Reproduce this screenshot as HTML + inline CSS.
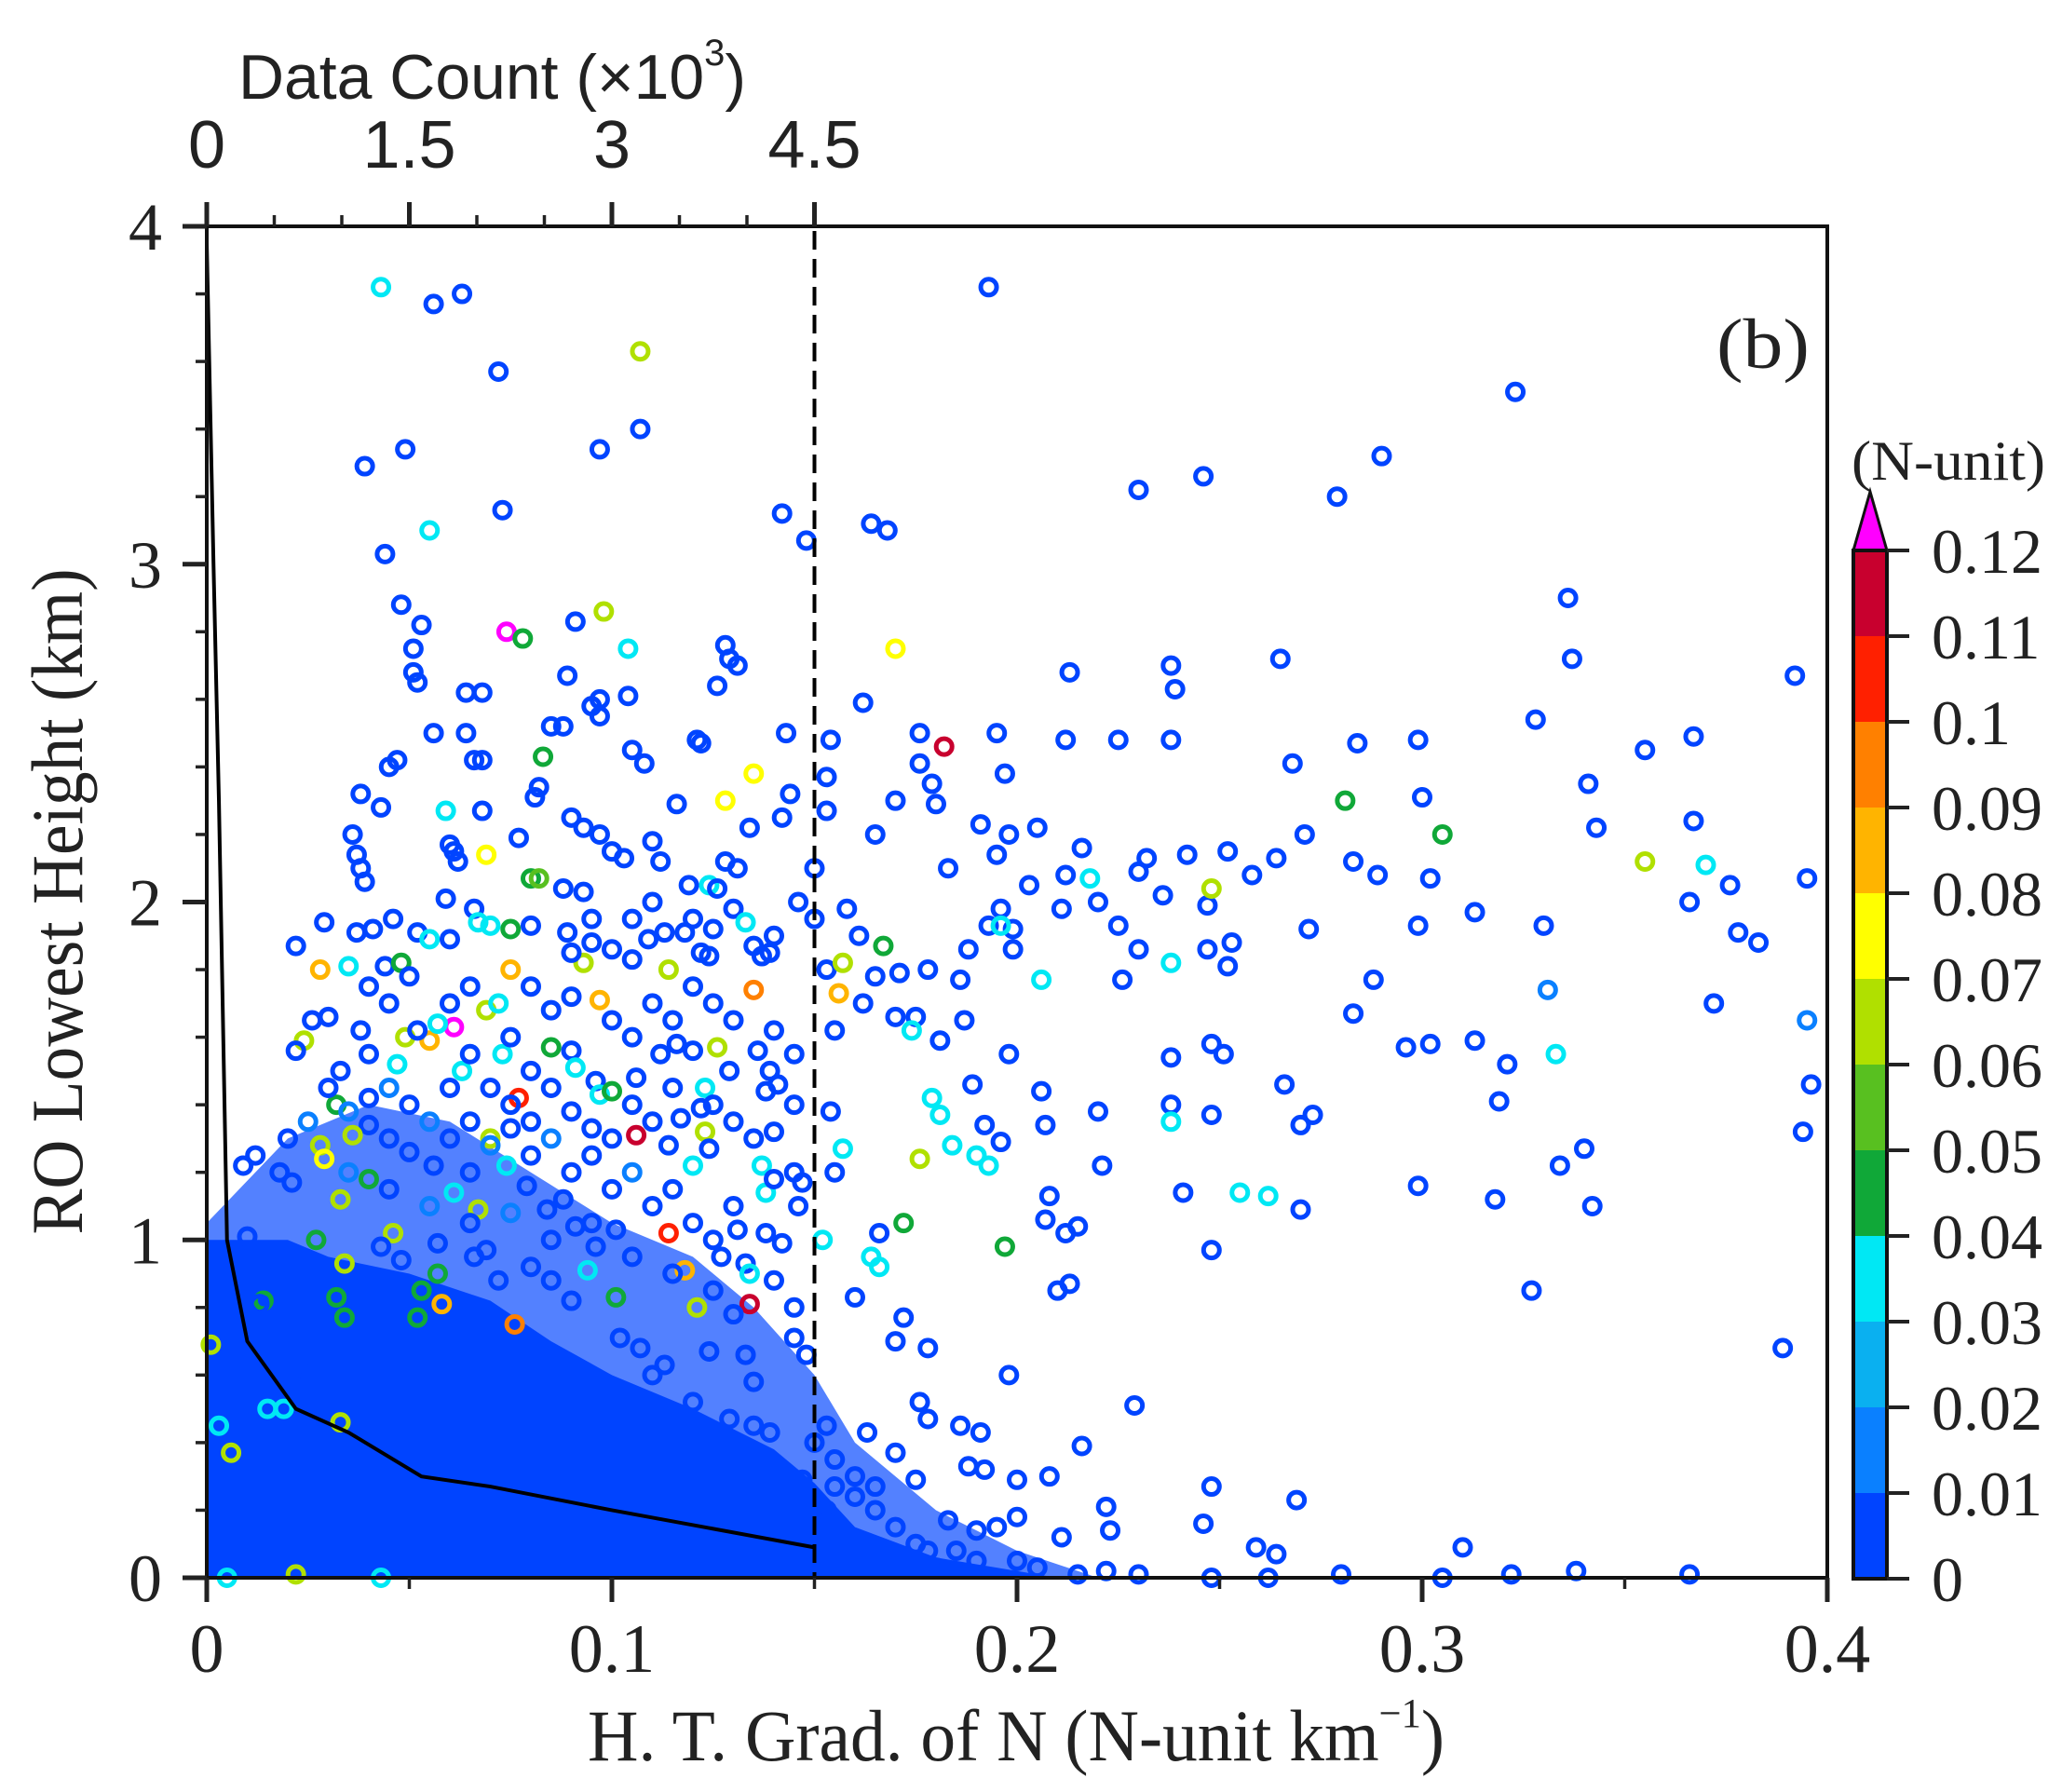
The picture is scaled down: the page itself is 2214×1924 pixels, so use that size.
<!DOCTYPE html>
<html><head><meta charset="utf-8"><style>
html,body{margin:0;padding:0;background:#fff;}
svg{display:block;}
text{font-family:"Liberation Serif",serif;fill:#222;}
.sans{font-family:"Liberation Sans Narrow","Liberation Sans",sans-serif;}
</style></head><body>
<svg id="chart" width="2214" height="1924" viewBox="0 0 2214 1924" xmlns="http://www.w3.org/2000/svg">
<g id="dense"></g>
<g id="pts"></g>
<g id="lines"></g>
<g id="axes"></g>
<g id="cbar"></g>
</svg>
<script>
// ---- data ----
const xTicks=[0,0.1,0.2,0.3,0.4];
const xTickLabels=["0","0.1","0.2","0.3","0.4"];
const yTicks=[0,1,2,3,4];
const yTickLabels=["0","1","2","3","4"];
const topTicks=[0,1.5,3,4.5];
const topTickLabels=["0","1.5","3","4.5"];
const cbarLevels=[0,0.01,0.02,0.03,0.04,0.05,0.06,0.07,0.08,0.09,0.1,0.11,0.12];
const cbarLabels=["0","0.01","0.02","0.03","0.04","0.05","0.06","0.07","0.08","0.09","0.1","0.11","0.12"];
const cbarColors=["#0044ff","#0a80ff","#0ab0f0","#00e8f4","#10a838","#58c020","#b0e000","#ffff00","#ffb400","#ff8000","#ff2000","#c8002e"];
const overColor="#ff00ff";
// data count curve (count in 10^3, height km)
const countVals=[0.0,0.05,0.09,0.15,0.3,0.66,1.05,1.59,2.1,3.0,4.5];
const countHeights=[3.95,3.0,2.3,1.0,0.7,0.5,0.43,0.3,0.27,0.2,0.09];
// dense cloud envelopes (x, height)
const denseCoreX=[0,0.02,0.03,0.05,0.07,0.085,0.1,0.12,0.14,0.15,0.16,0.18,0.2,0.21];
const denseCoreY=[1.0,1.0,0.95,0.9,0.82,0.7,0.6,0.5,0.38,0.28,0.15,0.06,0.02,0];
const denseOuterX=[0,0.02,0.04,0.06,0.08,0.1,0.12,0.135,0.15,0.16,0.18,0.2,0.22];
const denseOuterY=[1.05,1.3,1.4,1.35,1.2,1.05,0.95,0.8,0.6,0.4,0.2,0.08,0];
// sparse points: [x, height, colorValue]
const P=[
[0.193,3.82,0],[0.323,3.51,0],[0.230,3.22,0],[0.246,3.26,0],[0.279,3.20,0],[0.290,3.32,0],[0.336,2.90,0],[0.337,2.72,0],[0.392,2.67,0],[0.265,2.72,0],[0.213,2.68,0],[0.238,2.70,0],[0.239,2.63,0],[0.164,3.12,0],[0.168,3.10,0],[0.162,2.59,0],[0.170,2.30,0],[0.176,2.50,0],[0.195,2.50,0],[0.212,2.48,0],[0.225,2.48,0],[0.238,2.48,0],[0.284,2.47,0],[0.299,2.48,0],[0.328,2.54,0],[0.355,2.45,0],[0.367,2.49,0],[0.300,2.31,0],[0.341,2.35,0],[0.343,2.22,0],[0.367,2.24,0],[0.395,2.07,0],[0.376,2.05,0],[0.366,2.00,0],[0.378,1.91,0],[0.383,1.88,0],[0.313,1.97,0],[0.299,1.93,0],[0.330,1.93,0],[0.302,2.07,0],[0.289,2.08,0],[0.283,2.12,0],[0.268,2.41,0],[0.271,2.20,0],[0.264,2.13,0],[0.258,2.08,0],[0.252,2.15,0],[0.242,2.14,0],[0.232,2.13,0],[0.230,2.09,0],[0.236,2.02,0],[0.247,1.99,0],[0.216,2.16,0],[0.212,2.08,0],[0.203,2.05,0],[0.211,1.98,0],[0.199,1.92,0],[0.198,2.20,0],[0.191,2.23,0],[0.205,2.22,0],[0.195,2.14,0],[0.197,2.38,0],[0.180,2.29,0],[0.179,2.35,0],[0.183,2.10,0],[0.176,2.41,0],[0.165,2.20,0],[0.158,1.98,0],[0.161,1.90,0],[0.165,1.78,0],[0.171,1.79,0],[0.178,1.80,0],[0.186,1.77,0],[0.188,1.86,0],[0.193,1.93,0.005],[0.196,1.98,0],[0.199,1.86,0],[0.220,2.00,0],[0.225,1.93,0],[0.230,1.86,0],[0.226,1.77,0],[0.247,1.86,0],[0.252,1.81,0],[0.253,1.88,0],[0.272,1.92,0],[0.288,1.77,0],[0.283,1.67,0],[0.296,1.57,0],[0.302,1.58,0],[0.313,1.59,0],[0.321,1.52,0],[0.319,1.41,0],[0.331,1.74,0.01],[0.395,1.65,0.01],[0.396,1.46,0],[0.394,1.32,0],[0.372,1.70,0],[0.238,1.54,0],[0.248,1.58,0],[0.251,1.55,0],[0.266,1.46,0],[0.273,1.37,0],[0.270,1.34,0],[0.238,1.40,0],[0.248,1.37,0],[0.220,1.38,0],[0.221,1.22,0],[0.207,1.34,0],[0.206,1.44,0],[0.198,1.55,0],[0.189,1.46,0],[0.187,1.65,0],[0.175,1.66,0],[0.170,1.66,0],[0.162,1.70,0],[0.181,1.59,0],[0.192,1.34,0],[0.196,1.29,0],[0.208,1.13,0],[0.207,1.06,0],[0.212,1.02,0],[0.215,1.04,0],[0.213,0.87,0],[0.210,0.85,0],[0.241,1.14,0],[0.270,1.09,0],[0.299,1.16,0],[0.318,1.12,0],[0.334,1.22,0],[0.340,1.27,0],[0.342,1.10,0],[0.248,0.97,0],[0.327,0.85,0],[0.389,0.68,0],[0.229,0.51,0],[0.216,0.39,0],[0.198,0.60,0],[0.178,0.68,0],[0.172,0.77,0],[0.170,0.70,0],[0.166,1.02,0],[0.160,0.83,0],[0.176,0.52,0],[0.178,0.47,0],[0.186,0.45,0],[0.191,0.43,0],[0.188,0.33,0],[0.192,0.32,0],[0.200,0.29,0],[0.208,0.30,0],[0.163,0.43,0],[0.170,0.37,0],[0.175,0.29,0],[0.248,0.27,0],[0.269,0.23,0],[0.222,0.21,0],[0.223,0.14,0],[0.246,0.16,0],[0.259,0.09,0],[0.264,0.07,0],[0.310,0.09,0],[0.200,0.18,0],[0.211,0.12,0],[0.183,0.17,0],[0.190,0.14,0],[0.195,0.15,0],[0.155,0.27,0],[0.160,0.24,0],[0.165,0.27,0],[0.153,0.20,0],[0.178,0.08,0],[0.200,0.05,0],[0.180,0.03,0],[0.230,0.01,0],[0.248,0.00,0],[0.262,0.00,0],[0.280,0.01,0],[0.305,0.00,0],[0.322,0.01,0],[0.338,0.02,0],[0.366,0.01,0],[0.222,0.02,0],[0.215,0.01,0],[0.154,2.48,0],[0.153,2.37,0],[0.153,2.27,0],[0.153,1.80,0],[0.154,1.38,0],[0.155,1.20,0],[0.153,0.45,0],[0.155,1.62,0],
[0.182,2.46,0.115],[0.170,2.75,0.075],[0.281,2.30,0.045],[0.305,2.20,0.045],[0.355,2.12,0.065],[0.248,2.04,0.065],[0.370,2.11,0.035],[0.196,1.93,0.035],[0.218,2.07,0.035],[0.206,1.77,0.03],[0.157,1.82,0.065],[0.167,1.87,0.045],[0.156,1.73,0.085],[0.174,1.62,0.035],[0.333,1.55,0.035],[0.157,1.27,0.035],[0.179,1.42,0.035],[0.181,1.37,0.035],[0.184,1.28,0.035],[0.190,1.25,0.035],[0.193,1.22,0.03],[0.176,1.24,0.065],[0.172,1.05,0.045],[0.197,0.98,0.045],[0.255,1.14,0.035],[0.262,1.13,0.035],[0.166,0.92,0.035],[0.164,0.95,0.035],[0.152,1.00,0.035],[0.238,1.35,0.035],[0.238,1.82,0.035],
[0.043,3.82,0.03],[0.056,3.77,0],[0.063,3.80,0],[0.072,3.57,0],[0.107,3.63,0.065],[0.039,3.29,0],[0.049,3.34,0],[0.097,3.34,0],[0.107,3.40,0],[0.073,3.16,0],[0.055,3.10,0.035],[0.044,3.03,0],[0.142,3.15,0],[0.148,3.07,0],[0.048,2.88,0],[0.053,2.82,0],[0.051,2.75,0],[0.051,2.68,0],[0.052,2.65,0],[0.074,2.80,0.125],[0.078,2.78,0.045],[0.098,2.86,0.065],[0.091,2.83,0],[0.104,2.75,0.035],[0.128,2.76,0],[0.129,2.72,0],[0.131,2.70,0],[0.089,2.67,0],[0.097,2.60,0],[0.104,2.61,0],[0.064,2.62,0],[0.068,2.62,0],[0.126,2.64,0],[0.056,2.50,0],[0.064,2.50,0],[0.085,2.52,0],[0.088,2.52,0],[0.097,2.55,0],[0.095,2.58,0],[0.121,2.48,0],[0.122,2.47,0],[0.143,2.50,0],[0.105,2.45,0],[0.108,2.41,0],[0.083,2.43,0.045],[0.066,2.42,0],[0.068,2.42,0],[0.045,2.40,0],[0.047,2.42,0],[0.038,2.32,0],[0.043,2.28,0],[0.059,2.27,0.035],[0.068,2.27,0],[0.082,2.34,0],[0.081,2.31,0],[0.090,2.25,0],[0.116,2.29,0],[0.128,2.30,0.075],[0.135,2.38,0.075],[0.144,2.32,0],[0.134,2.22,0],[0.142,2.25,0],[0.110,2.18,0],[0.128,2.12,0],[0.131,2.10,0],[0.036,2.20,0],[0.037,2.14,0],[0.038,2.10,0],[0.039,2.06,0],[0.060,2.17,0],[0.061,2.15,0],[0.062,2.12,0],[0.069,2.14,0.075],[0.077,2.19,0],[0.093,2.22,0],[0.097,2.20,0],[0.100,2.15,0],[0.103,2.13,0],[0.112,2.12,0],[0.119,2.05,0],[0.124,2.05,0.035],[0.126,2.04,0],[0.130,1.98,0],[0.146,2.00,0],[0.080,2.07,0.045],[0.082,2.07,0.05],[0.088,2.04,0],[0.093,2.03,0],[0.059,2.01,0],[0.066,1.98,0],[0.022,1.87,0],[0.029,1.94,0],[0.037,1.91,0],[0.041,1.92,0],[0.046,1.95,0],[0.052,1.91,0],[0.055,1.89,0.035],[0.060,1.89,0],[0.067,1.94,0.035],[0.070,1.93,0.035],[0.075,1.92,0.045],[0.080,1.93,0],[0.089,1.91,0],[0.095,1.88,0],[0.100,1.86,0],[0.105,1.83,0],[0.109,1.89,0],[0.113,1.91,0],[0.118,1.91,0],[0.122,1.85,0],[0.124,1.84,0],[0.133,1.94,0.035],[0.135,1.87,0],[0.137,1.84,0],[0.139,1.85,0],[0.028,1.80,0.085],[0.035,1.81,0.035],[0.044,1.81,0],[0.048,1.82,0.045],[0.075,1.80,0.085],[0.093,1.82,0.065],[0.114,1.80,0.065],[0.135,1.74,0.095],[0.097,1.71,0.085],[0.061,1.63,0.125],[0.069,1.68,0.065],[0.072,1.70,0.035],[0.049,1.60,0.065],[0.055,1.59,0.085],[0.052,1.62,0],[0.057,1.64,0.035],[0.047,1.52,0.035],[0.040,1.55,0],[0.033,1.50,0],[0.024,1.59,0.065],[0.022,1.56,0],[0.026,1.65,0],[0.030,1.66,0],[0.038,1.62,0],[0.063,1.50,0.035],[0.073,1.55,0.035],[0.085,1.57,0.045],[0.090,1.56,0],[0.091,1.51,0.035],[0.096,1.47,0],[0.097,1.43,0.035],[0.100,1.44,0.045],[0.106,1.48,0],[0.112,1.55,0],[0.116,1.58,0],[0.120,1.56,0],[0.126,1.57,0.065],[0.129,1.50,0],[0.136,1.56,0],[0.139,1.50,0],[0.141,1.46,0],[0.138,1.44,0],[0.077,1.42,0.105],[0.106,1.31,0.115],[0.123,1.32,0.065],[0.123,1.45,0.035],[0.122,1.39,0],[0.117,1.36,0],[0.114,1.28,0],[0.120,1.22,0.035],[0.124,1.27,0],[0.137,1.22,0.035],[0.138,1.14,0.035],[0.140,1.18,0],[0.145,1.20,0],[0.146,1.10,0],[0.147,1.17,0],[0.142,0.99,0],[0.138,1.02,0],[0.131,1.03,0],[0.133,0.93,0],[0.134,0.90,0.035],[0.127,0.95,0],[0.114,1.02,0.105],[0.118,0.91,0.085],[0.121,0.80,0.065],[0.134,0.81,0.115],[0.076,0.75,0.095],[0.101,0.83,0.045],[0.091,1.04,0],[0.096,0.98,0],[0.101,1.03,0],[0.084,1.09,0],[0.088,1.12,0],[0.079,1.16,0],[0.074,1.22,0.035],[0.070,1.30,0.065],[0.067,1.09,0.065],[0.065,1.20,0],[0.061,1.14,0.035],[0.056,1.22,0],[0.050,1.26,0],[0.045,1.30,0],[0.040,1.34,0],[0.036,1.31,0.065],[0.028,1.28,0.065],[0.029,1.24,0.075],[0.032,1.40,0.045],[0.033,1.12,0.065],[0.040,1.18,0.045],[0.046,1.02,0.065],[0.034,0.93,0.065],[0.027,1.00,0.045],[0.032,0.83,0.045],[0.034,0.77,0.045],[0.053,0.85,0.045],[0.057,0.90,0.045],[0.058,0.81,0.085],[0.052,0.77,0.045],[0.048,0.94,0],[0.043,0.98,0],[0.057,0.99,0],[0.066,0.95,0],[0.069,0.97,0],[0.072,0.88,0],[0.080,0.92,0],[0.085,0.88,0],[0.090,0.82,0],[0.094,0.91,0.035],[0.102,0.71,0],[0.107,0.68,0],[0.110,0.60,0],[0.113,0.63,0],[0.124,0.67,0],[0.133,0.66,0],[0.135,0.58,0],[0.145,0.71,0],[0.148,0.66,0],[0.129,0.47,0],[0.135,0.45,0],[0.139,0.43,0],[0.120,0.52,0],[0.147,0.29,0],[0.014,0.82,0.045],[0.013,0.81,0],[0.010,1.01,0],[0.009,1.22,0],[0.012,1.25,0],[0.018,1.20,0],[0.021,1.17,0],[0.017,0.89,0],[0.024,0.62,0],[0.015,0.50,0.035],[0.019,0.50,0.035],[0.033,0.46,0.065],[0.006,0.37,0.065],[0.003,0.45,0.03],[0.001,0.69,0.065],[0.022,0.01,0.065],[0.043,0.00,0.03],[0.005,0.0,0.03],
[0.02,1.3,0],[0.025,1.35,0.01],[0.03,1.45,0],[0.035,1.38,0.015],[0.04,1.42,0],[0.045,1.45,0.015],[0.05,1.4,0],[0.055,1.35,0.015],[0.06,1.3,0],[0.065,1.35,0],[0.07,1.28,0.015],[0.075,1.33,0],[0.08,1.25,0],[0.085,1.3,0.015],[0.09,1.2,0],[0.095,1.25,0],[0.1,1.15,0],[0.105,1.2,0.015],[0.11,1.1,0],[0.115,1.15,0],[0.12,1.05,0],[0.125,1.0,0],[0.13,1.1,0],[0.035,1.2,0.015],[0.045,1.15,0],[0.055,1.1,0.015],[0.065,1.05,0],[0.075,1.08,0.015],[0.085,1.0,0],[0.095,1.05,0],[0.105,0.95,0],[0.115,0.9,0],[0.125,0.85,0],[0.13,0.78,0],[0.14,0.88,0],[0.145,0.8,0],[0.06,1.7,0],[0.065,1.75,0],[0.08,1.75,0],[0.085,1.68,0],[0.09,1.72,0],[0.1,1.65,0],[0.105,1.6,0],[0.11,1.7,0],[0.115,1.65,0],[0.12,1.75,0],[0.125,1.7,0],[0.13,1.65,0],[0.14,1.62,0],[0.145,1.55,0],[0.045,1.7,0],[0.04,1.75,0],[0.05,1.78,0],[0.075,1.6,0],[0.08,1.5,0],[0.085,1.45,0],[0.09,1.38,0],[0.095,1.33,0],[0.1,1.3,0],[0.105,1.4,0],[0.11,1.35,0],[0.115,1.45,0],[0.125,1.4,0],[0.13,1.35,0],[0.135,1.3,0],[0.14,1.32,0],[0.145,1.4,0],[0.06,1.45,0],[0.065,1.55,0],[0.07,1.45,0],[0.075,1.4,0],[0.08,1.35,0],[0.09,1.85,0],[0.095,1.95,0],[0.105,1.95,0],[0.11,2.0,0],[0.12,1.95,0],[0.125,1.92,0],[0.14,1.9,0],[0.15,2.1,0],[0.15,1.95,0],[0.15,0.4,0],[0.155,0.35,0],[0.16,0.3,0],[0.165,0.2,0],[0.17,0.15,0],[0.175,0.1,0],[0.185,0.08,0],[0.19,0.05,0],[0.205,0.03,0]
];
// ---- layout ----
const L=222,R=1962,T=243,B=1694;
const X=v=>L+v/0.4*(R-L);
const Y=v=>B-v/4*(B-T);
const XC=c=>X(c/30); // count (10^3) -> x
const CB0=1990,CB1=2026,CBB=1695,CBT=591;
const CY=v=>CBB-v/0.12*(CBB-CBT);
const NS="http://www.w3.org/2000/svg";
function mk(tag,attrs,parent){const e=document.createElementNS(NS,tag);for(const k in attrs)e.setAttribute(k,attrs[k]);parent.appendChild(e);return e;}
function colorOf(v){if(v>=0.12)return overColor;let i=Math.floor(v/0.01);if(i<0)i=0;if(i>11)i=11;return cbarColors[i];}
// dense cloud
const dense=document.getElementById('dense');
let op="M"+X(0)+","+Y(0);
for(let i=0;i<denseOuterX.length;i++)op+=" L"+X(denseOuterX[i])+","+Y(denseOuterY[i]);
op+=" L"+X(denseOuterX[denseOuterX.length-1])+","+Y(0)+" Z";
const outer=mk('path',{d:op,fill:"#0a4cff",opacity:"0.7"},dense);


let cp="M"+X(0)+","+Y(0);
for(let i=0;i<denseCoreX.length;i++)cp+=" L"+X(denseCoreX[i])+","+Y(denseCoreY[i]);
cp+=" Z";
const core=mk('path',{d:cp,fill:"#0044ff"},dense);


// points
const pts=document.getElementById('pts');
P.forEach(p=>{
 const c=mk('circle',{cx:X(p[0]),cy:Y(p[1]),r:8.5,fill:"none",stroke:colorOf(p[2]),"stroke-width":5},pts);
 
 
});
// lines
const lines=document.getElementById('lines');
let lp="";
for(let i=0;i<countVals.length;i++)lp+=(i?" L":"M")+XC(countVals[i])+","+Y(countHeights[i]);
const cl=mk('path',{d:lp,fill:"none",stroke:"#000","stroke-width":4},lines);


const dl=mk('line',{x1:X(0.15),x2:X(0.15),y1:218,y2:B,stroke:"#000","stroke-width":4,"stroke-dasharray":"20,10"},lines);


// axes
const ax=document.getElementById('axes');
const fr=mk('rect',{x:L,y:T,width:R-L,height:B-T,fill:"none",stroke:"#111","stroke-width":4},ax);


for(let k=0;k<=20;k++){const v=k*0.2;const maj=k%5===0;
 const t=mk('line',{x1:L-(maj?26:12),x2:L,y1:Y(v),y2:Y(v),stroke:"#222","stroke-width":maj?5:3.5},ax);
 }
yTicks.forEach((v,i)=>{const t=mk('text',{x:174,y:Y(v)+25,"text-anchor":"end","font-size":72},ax);t.textContent=yTickLabels[i];
 });
for(let k=0;k<=8;k++){const v=k*0.05;const maj=k%2===0;
 const t=mk('line',{x1:X(v),x2:X(v),y1:B,y2:B+(maj?26:12),stroke:"#222","stroke-width":maj?5:3.5},ax);
 }
xTicks.forEach((v,i)=>{const t=mk('text',{x:X(v),y:1795,"text-anchor":"middle","font-size":74},ax);t.textContent=xTickLabels[i];
 });
for(let k=0;k<=9;k++){const v=k*0.5;const maj=k%3===0;
 const t=mk('line',{x1:XC(v),x2:XC(v),y1:T,y2:T-(maj?26:12),stroke:"#222","stroke-width":maj?5:3.5},ax);
 }
topTicks.forEach((v,i)=>{const t=mk('text',{x:XC(v),y:180,"text-anchor":"middle","font-size":72,"class":"sans"},ax);t.textContent=topTickLabels[i];
 });
// titles
let tt=mk('text',{x:256,y:106,"font-size":68,"class":"sans",textLength:545,lengthAdjust:"spacingAndGlyphs"},ax);
tt.innerHTML='Data Count (×10<tspan dy="-36" font-size="40">3</tspan><tspan dy="36">)</tspan>';

tt=mk('text',{x:631,y:1890,"font-size":78,textLength:920,lengthAdjust:"spacingAndGlyphs"},ax);
tt.innerHTML='H. T. Grad. of N (N-unit km<tspan dy="-36" font-size="44">−1</tspan><tspan dy="36">)</tspan>';

tt=mk('text',{x:0,y:0,"font-size":78,"text-anchor":"middle",textLength:715,lengthAdjust:"spacingAndGlyphs",transform:"translate(88,968) rotate(-90)"},ax);
tt.textContent='RO Lowest Height (km)';

tt=mk('text',{x:1843,y:395,"font-size":76,textLength:100,lengthAdjust:"spacingAndGlyphs"},ax);
tt.textContent='(b)';

// colorbar
const cb=document.getElementById('cbar');
for(let i=0;i<cbarColors.length;i++){
 const r=mk('rect',{x:CB0,y:CY(cbarLevels[i+1]),width:CB1-CB0,height:CY(cbarLevels[i])-CY(cbarLevels[i+1]),fill:cbarColors[i]},cb);
 }
const tri=mk('polygon',{points:CB0+","+CBT+" "+CB1+","+CBT+" "+((CB0+CB1)/2)+",528",fill:overColor,stroke:"#111","stroke-width":3},cb);

const cbf=mk('rect',{x:CB0,y:CBT,width:CB1-CB0,height:CBB-CBT,fill:"none",stroke:"#111","stroke-width":4},cb);

cbarLevels.forEach((v,i)=>{
 const t=mk('line',{x1:CB1,x2:CB1+24,y1:CY(v),y2:CY(v),stroke:"#222","stroke-width":4},cb);
 
 const s=mk('text',{x:2074,y:CY(v)+24,"font-size":68},cb);s.textContent=cbarLabels[i];
 });
tt=mk('text',{x:1988,y:515,"font-size":60,textLength:208,lengthAdjust:"spacingAndGlyphs"},cb);
tt.textContent='(N-unit)';

</script>
</body></html>
